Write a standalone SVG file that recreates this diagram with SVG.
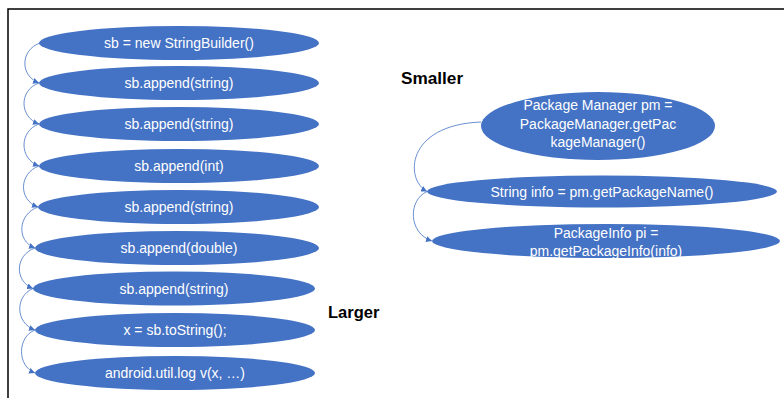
<svg xmlns="http://www.w3.org/2000/svg" width="784" height="398" viewBox="0 0 784 398">
<defs>
<style>
.n{fill:#4472C4}
.t{fill:#fff;font-family:"Liberation Sans",Arial,sans-serif;font-size:14px;text-anchor:middle;dominant-baseline:central}
.lbl{fill:#000;font-family:"Liberation Sans",Arial,sans-serif;font-size:16.5px;font-weight:bold}
.c{fill:none;stroke:#4472C4;stroke-width:0.8}
</style>
<marker id="a" viewBox="0 0 10 10" refX="10" refY="5" markerWidth="6" markerHeight="6" markerUnits="userSpaceOnUse" orient="auto">
<path d="M0,0 L10,5 L0,10 z" fill="#4472C4"/>
</marker>
</defs>
<rect width="784" height="398" fill="#fff"/>
<path d="M8,398 V9 H784" fill="none" stroke="#000" stroke-width="1.5"/>
<text class="lbl" x="401" y="84" style="font-size:17.2px">Smaller</text>
<text class="lbl" x="328" y="318">Larger</text>
<g id="n1"><ellipse class="n" cx="179" cy="43" rx="140" ry="17"/><text class="t" x="179" y="43">sb = new StringBuilder()</text></g>
<g id="n2"><ellipse class="n" cx="179" cy="83" rx="140" ry="17"/><text class="t" x="179" y="83">sb.append(string)</text></g>
<g id="n3"><ellipse class="n" cx="179" cy="124" rx="140" ry="17"/><text class="t" x="179" y="124">sb.append(string)</text></g>
<g id="n4"><ellipse class="n" cx="179" cy="166" rx="140" ry="17"/><text class="t" x="179" y="166">sb.append(int)</text></g>
<g id="n5"><ellipse class="n" cx="178.5" cy="207" rx="140.5" ry="17"/><text class="t" x="179" y="207">sb.append(string)</text></g>
<g id="n6"><ellipse class="n" cx="177" cy="248" rx="142" ry="17"/><text class="t" x="179" y="248">sb.append(double)</text></g>
<g id="n7"><ellipse class="n" cx="174" cy="288.5" rx="141" ry="17"/><text class="t" x="174" y="288.5">sb.append(string)</text></g>
<g id="n8"><ellipse class="n" cx="175" cy="330" rx="140" ry="17"/><text class="t" x="175" y="330">x = sb.toString();</text></g>
<g id="n9"><ellipse class="n" cx="175" cy="373" rx="140" ry="17"/><text class="t" x="175" y="373">android.util.log v(x, …)</text></g>
<g id="p1"><ellipse class="n" cx="598" cy="126" rx="117" ry="34"/><text class="t" x="598" y="105">Package Manager pm =</text><text class="t" x="598" y="123.5">PackageManager.getPac</text><text class="t" x="598" y="142">kageManager()</text></g>
<g id="p2"><ellipse class="n" cx="602" cy="191.5" rx="175" ry="16"/><text class="t" x="602" y="191.5">String info = pm.getPackageName()</text></g>
<g id="p3"><ellipse class="n" cx="606" cy="241" rx="174" ry="17"/><text class="t" x="606" y="233">PackageInfo pi =</text><text class="t" x="606" y="250.5">pm.getPackageInfo(info)</text></g>
<g id="connectors">
<path class="c" marker-end="url(#a)" d="M40,43 C20,50 20,76 39,83"/>
<path class="c" marker-end="url(#a)" d="M39,83 C19,90 19,117 39,124"/>
<path class="c" marker-end="url(#a)" d="M39,124 C19,131 19,159 39,166"/>
<path class="c" marker-end="url(#a)" d="M39,166 C19,173 18,200 38,207"/>
<path class="c" marker-end="url(#a)" d="M38,207 C18,214 16,241 35,248"/>
<path class="c" marker-end="url(#a)" d="M35,248 C15,255 14,281 33,288.5"/>
<path class="c" marker-end="url(#a)" d="M33,288.5 C15,296 15,323 35,330"/>
<path class="c" marker-end="url(#a)" d="M35,330 C17,337 17,366 35,373"/>
<path class="c" marker-end="url(#a)" d="M481,122 C405,125 405,180 427,191.5"/>
<path class="c" marker-end="url(#a)" d="M427,191.5 C408,200 408,233 432,241"/>
</g>
</svg>
